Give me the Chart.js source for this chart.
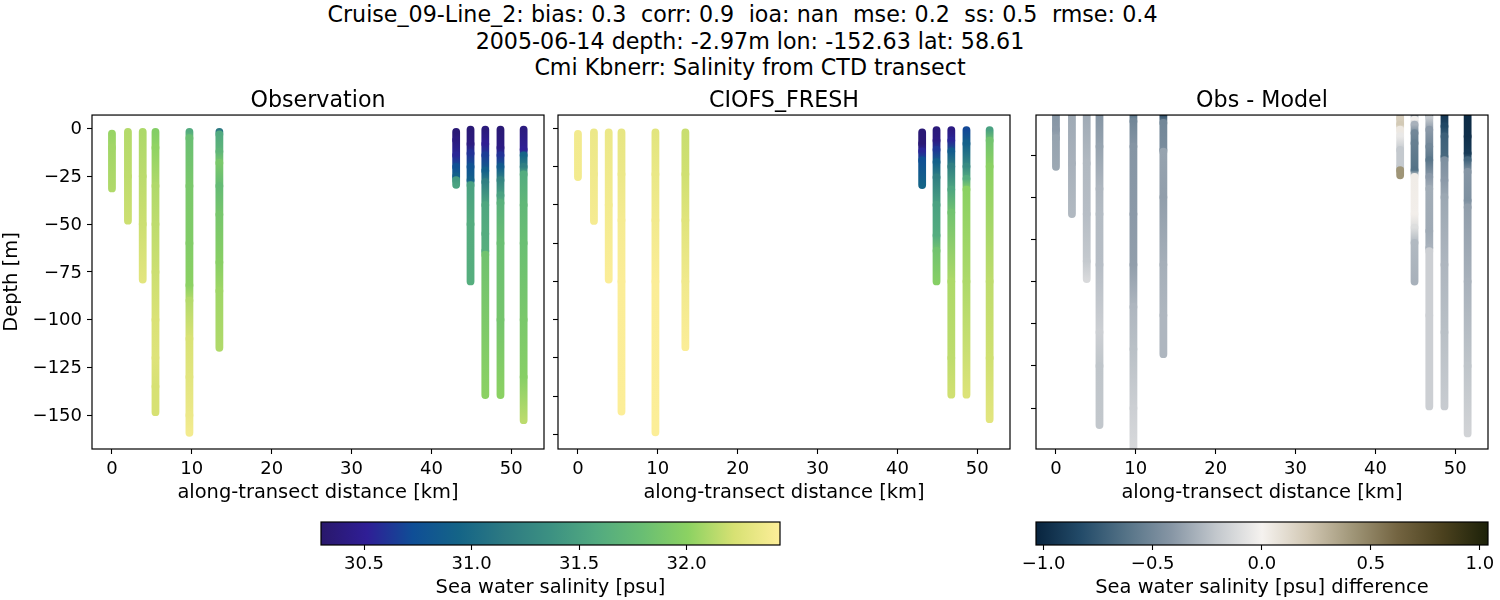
<!DOCTYPE html>
<html>
<head>
<meta charset="utf-8">
<title>Cruise_09-Line_2</title>
<script src="https://cdn.jsdelivr.net/npm/chart.js@4"></script>
<style>
	body { margin: 0; background: #fff; width: 1500px; height: 600px; overflow: hidden; position: relative; }
	canvas { position: absolute; }
	#suptitle { position: absolute; left: 0; top: 1px; width: 1500px; text-align: center; font: 22.2px/26.6px "DejaVu Sans"; color: #000; }
	#suptitle .first { padding-right: 15px; word-spacing: 0.2px; }
</style>
</head>
<body>
<div id="suptitle">
	<div class="first">Cruise_09-Line_2: bias: 0.3&nbsp; corr: 0.9&nbsp; ioa: nan&nbsp; mse: 0.2&nbsp; ss: 0.5&nbsp; rmse: 0.4</div>
	<div>2005-06-14 depth: -2.97m lon: -152.63 lat: 58.61</div>
	<div>Cmi Kbnerr: Salinity from CTD transect</div>
</div>
<canvas id="panel1"></canvas>
<canvas id="panel2"></canvas>
<canvas id="panel3"></canvas>
<canvas id="bar1"></canvas>
<canvas id="bar2"></canvas>
<script>
// along-transect distance of each cast [km]
const distances = [0, 2, 3.85, 5.45, 9.7, 13.45, 43.1, 44.9, 46.75, 48.65, 51.55];

// Observation
const obsDepths = [
	[-2.6, -10, -31.3],
	[-1.7, -25, -48.2],
	[-1.7, -25, -50, -79],
	[-1.7, -10, -30, -50, -75, -100, -120, -135, -148.4],
	[-1.7, -5, -30, -60, -82, -90, -110, -130, -150, -159.2],
	[-1.7, -3, -12, -18, -30, -45, -70, -85, -114.7],
	[-1.7, -6, -14, -20, -25, -27, -29.4],
	[-0.5, -8, -13, -20, -27, -29.6, -50, -80],
	[-0.5, -8, -14, -22, -28, -40, -55, -64, -66, -139.5],
	[-0.5, -10, -14, -20, -27, -35, -39, -60, -100, -139.5],
	[-0.5, -11, -14, -20, -24, -40, -60, -100, -130, -152.6]
];
const obsSalinity = [
	[32.04, 32.07, 32.11],
	[32.12, 32.15, 32.19],
	[32.1, 32.14, 32.19, 32.28],
	[31.96, 32.02, 32.11, 32.15, 32.19, 32.24, 32.26, 32.22, 32.22],
	[31.6, 31.8, 31.9, 31.94, 32.0, 32.12, 32.23, 32.28, 32.34, 32.38],
	[31.15, 31.58, 31.7, 31.9, 31.76, 31.88, 31.98, 32.06, 32.11],
	[30.35, 30.4, 30.55, 30.75, 30.9, 31.45, 31.52],
	[30.35, 30.4, 30.6, 30.78, 30.9, 31.5, 31.6, 31.62],
	[30.38, 30.5, 30.65, 30.9, 31.2, 31.55, 31.6, 31.62, 31.84, 32.0],
	[30.35, 30.42, 30.6, 30.85, 31.25, 31.5, 31.65, 31.8, 31.87, 32.0],
	[30.4, 30.5, 30.95, 31.2, 31.6, 31.72, 31.8, 31.9, 31.97, 32.14]
];

// CIOFS_FRESH
const modelDepths = [
	[-3.7, -31.8],
	[-2.6, -30, -60.5],
	[-2.6, -50, -98.8],
	[-2.6, -30, -60, -100, -185],
	[-2.6, -30, -60, -100, -198.6],
	[-2.6, -30, -60, -100, -143],
	[-2.6, -10, -15, -21, -37],
	[-1.1, -8, -14, -22, -32, -50, -70, -80, -100],
	[-1.1, -8, -15, -25, -40, -55, -100, -150, -174],
	[-1.1, -10, -25, -33, -40, -100, -174],
	[-1.1, -8, -25, -100, -150, -190]
];
const modelSalinity = [
	[32.37, 32.38],
	[32.34, 32.36, 32.39],
	[32.34, 32.38, 32.42],
	[32.31, 32.34, 32.39, 32.42, 32.43],
	[32.28, 32.33, 32.37, 32.42, 32.43],
	[32.18, 32.2, 32.27, 32.36, 32.42],
	[30.35, 30.35, 30.55, 30.75, 30.94],
	[30.38, 30.42, 30.62, 30.9, 31.2, 31.5, 31.6, 31.85, 31.97],
	[30.42, 30.55, 30.85, 31.2, 31.55, 31.85, 32.1, 32.15, 32.2],
	[30.7, 30.9, 31.3, 31.6, 32.0, 32.1, 32.25],
	[31.5, 31.85, 32.0, 32.15, 32.2, 32.28]
];

// Obs - Model
const diffDepths = [
	[0, -10, -15, -32],
	[0, -30, -60],
	[0, -30, -60, -88, -98.5],
	[0, -20, -45, -60, -90, -130, -150, -185],
	[0, -5, -20, -60, -90, -115, -140, -175, -205],
	[0, -6, -22, -23, -50, -90, -120, -143],
	[0, -3, -7, -10, -14, -22, -32, -34, -37],
	[0, -4, -7, -12, -18, -34, -38, -60, -68, -77, -100],
	[0, -3, -10, -20, -28, -38, -45, -70, -80, -82, -120, -174],
	[0, -8, -14, -26, -28, -40, -50, -90, -130, -174],
	[0, -14, -24, -28, -35, -52, -56, -100, -150, -190]
];
const diffValues = [
	[-0.42, -0.4, -0.36, -0.34],
	[-0.33, -0.3, -0.27],
	[-0.33, -0.27, -0.25, -0.2, -0.12],
	[-0.42, -0.36, -0.28, -0.26, -0.25, -0.17, -0.22, -0.21],
	[-0.6, -0.5, -0.42, -0.4, -0.38, -0.28, -0.24, -0.17, -0.11],
	[-0.9, -0.5, -0.47, -0.36, -0.38, -0.31, -0.28, -0.28],
	[-0.1, 0.18, 0.2, 0.05, -0.05, -0.2, -0.2, 0.42, 0.42],
	[-0.5, -0.02, -0.3, -0.5, -0.55, -0.62, 0.03, 0.02, -0.1, -0.27, -0.3],
	[-0.8, -0.2, -0.4, -0.5, -0.6, -0.4, -0.32, -0.33, -0.3, -0.17, -0.17, -0.17],
	[-0.95, -0.85, -0.72, -0.68, -0.45, -0.4, -0.34, -0.28, -0.24, -0.19],
	[-1.0, -0.98, -0.92, -0.7, -0.42, -0.45, -0.38, -0.3, -0.22, -0.15]
];

// tick labels
const distanceTicks = [0, 10, 20, 30, 40, 50];
const obsDepthTicks = [0, -25, -50, -75, -100, -125, -150];
const modelDepthTicks = [0, -25, -50, -75, -100, -125, -150, -175, -200];
const diffDepthTicks = [-25, -50, -75, -100, -125, -150, -175];
const salinityTicks = [30.5, 31, 31.5, 32];
const diffTicks = [-1, -0.5, 0, 0.5, 1];

// colormaps, evenly spaced stops
const halineColors = [[41,24,107],[47,30,150],[15,78,150],[20,100,135],[45,122,130],[60,145,130],[82,170,128],[105,190,115],[140,210,98],[215,225,115],[253,238,153]];
const diffColors = [[8,36,62],[35,75,105],[85,115,135],[135,150,165],[195,200,205],[245,242,239],[210,200,180],[160,150,120],[115,100,65],[75,65,30],[28,33,9]];
const salinityRange = [30.3, 32.434];
const diffRange = [-1.035, 1.037];

const font = "DejaVu Sans";

function colorAt(colors, range, v) {
	var t = (v - range[0]) / (range[1] - range[0]);
	t = Math.min(1, Math.max(0, t)) * (colors.length - 1);
	var i = Math.min(colors.length - 2, Math.floor(t));
	var c = colors[i].map((a, k) => Math.round(a + (colors[i + 1][k] - a) * (t - i)));
	return 'rgb(' + c.join(',') + ')';
}

function minusSign(v) {
	return String(v).replace('-', '\u2212');
}

function place(id, left, top, width, height) {
	const c = document.getElementById(id);
	c.style.left = left + 'px';
	c.style.top = top + 'px';
	c.width = width;
	c.height = height;
	c.style.width = width + 'px';
	c.style.height = height + 'px';
	return c;
}

// black box around the axes
const frame = {
	id: 'frame',
	afterDraw(chart) {
		const a = chart.chartArea, ctx = chart.ctx;
		ctx.save();
		ctx.strokeStyle = '#000';
		ctx.lineWidth = 1.2;
		ctx.strokeRect(a.left, a.top, a.right - a.left, a.bottom - a.top);
		ctx.restore();
	}
};

function drawPanel(id, box, title, depths, values, colors, range, yMin, yMax, yTicks, showY) {
	const c = place(id, box.left, 80, box.width, 426);
	const datasets = distances.map((x, i) => ({
		data: depths[i].map((d, k) => ({ x: x, y: d, v: values[i][k] })),
		showLine: true,
		pointRadius: 0,
		borderWidth: 7.8,
		borderCapStyle: 'round',
		clip: 0,
		segment: {
			// colour runs from one reading to the next
			borderColor: ctx => {
				const data = ctx.chart.data.datasets[ctx.datasetIndex].data;
				const a = data[ctx.p0DataIndex], b = data[ctx.p1DataIndex];
				const y = ctx.chart.scales.y;
				const g = ctx.chart.ctx.createLinearGradient(0, y.getPixelForValue(a.y), 0, y.getPixelForValue(b.y));
				g.addColorStop(0, colorAt(colors, range, a.v));
				g.addColorStop(1, colorAt(colors, range, b.v));
				return g;
			}
		}
	}));
	new Chart(c, {
		type: 'scatter',
		data: { datasets: datasets },
		plugins: [frame],
		options: {
			responsive: false,
			animation: false,
			devicePixelRatio: 1,
			layout: { padding: { right: box.width - box.axis - 452 } },
			plugins: {
				legend: { display: false },
				tooltip: { enabled: false },
				title: {
					display: true,
					fullSize: false,
					text: title,
					color: '#000',
					font: { family: font, size: 22.2, weight: 'normal' },
					padding: { top: 8, bottom: 0.4 }
				}
			},
			scales: {
				x: {
					type: 'linear',
					min: -2.5,
					max: 54.1,
					afterBuildTicks: s => { s.ticks = distanceTicks.map(v => ({ value: v })); },
					afterFit: s => { s.height = 57; },
					border: { display: false },
					grid: { drawOnChartArea: false, tickLength: 5, tickColor: '#000', tickWidth: 1.1 },
					ticks: { color: '#000', maxRotation: 0, autoSkip: false, padding: 5, font: { family: font, size: 18 } },
					title: { display: true, text: 'along-transect distance [km]', color: '#000', padding: { top: 0, bottom: 1 }, font: { family: font, size: 19.44 } }
				},
				y: {
					type: 'linear',
					min: yMin,
					max: yMax,
					afterBuildTicks: s => { s.ticks = yTicks.map(v => ({ value: v })); },
					afterFit: s => { s.width = box.axis; },
					border: { display: false },
					grid: { drawOnChartArea: false, tickLength: 5, tickColor: '#000', tickWidth: 1.1 },
					ticks: { display: showY, color: '#000', autoSkip: false, padding: 5, labelOffset: 1, callback: minusSign, font: { family: font, size: 18 } },
					title: { display: showY, text: 'Depth [m]', color: '#000', padding: { top: 0, bottom: 1 }, font: { family: font, size: 19.44 } }
				}
			}
		}
	});
}

function drawBar(id, left, width, areaLeft, areaWidth, colors, range, ticks, label) {
	const c = place(id, left, 510, width, 90);
	const gradient = {
		id: 'gradient',
		beforeDatasetsDraw(chart) {
			const a = chart.chartArea, ctx = chart.ctx;
			const g = ctx.createLinearGradient(a.left, 0, a.right, 0);
			colors.forEach((col, i) => g.addColorStop(i / (colors.length - 1), 'rgb(' + col.join(',') + ')'));
			ctx.fillStyle = g;
			ctx.fillRect(a.left, a.top, a.right - a.left, a.bottom - a.top);
		}
	};
	new Chart(c, {
		type: 'scatter',
		data: { datasets: [] },
		plugins: [gradient, frame],
		options: {
			responsive: false,
			animation: false,
			devicePixelRatio: 1,
			layout: { padding: { left: areaLeft, top: 12, right: width - areaLeft - areaWidth } },
			plugins: { legend: { display: false }, tooltip: { enabled: false } },
			scales: {
				x: {
					type: 'linear',
					min: range[0],
					max: range[1],
					afterBuildTicks: s => { s.ticks = ticks.map(v => ({ value: v })); },
					afterFit: s => { s.height = 55; },
					border: { display: false },
					grid: { drawOnChartArea: false, tickLength: 5, tickColor: '#000', tickWidth: 1.1 },
					ticks: {
						color: '#000',
						maxRotation: 0,
						autoSkip: false,
						padding: 4,
						callback: v => minusSign(v.toFixed(1)),
						font: { family: font, size: 18 }
					},
					title: { display: true, text: label, color: '#000', padding: 0, font: { family: font, size: 19.44 } }
				},
				y: { display: false, min: 0, max: 1 }
			}
		}
	});
}

drawPanel('panel1', { left: 0, width: 546, axis: 92 }, 'Observation', obsDepths, obsSalinity, halineColors, salinityRange, -167.7, 7.1, obsDepthTicks, true);
drawPanel('panel2', { left: 528, width: 484, axis: 30 }, 'CIOFS_FRESH', modelDepths, modelSalinity, halineColors, salinityRange, -209.5, 8.7, modelDepthTicks, false);
drawPanel('panel3', { left: 1006, width: 484, axis: 30 }, 'Obs - Model', diffDepths, diffValues, diffColors, diffRange, -199.2, -1.3, diffDepthTicks, false);

drawBar('bar1', 300, 500, 21, 459, halineColors, salinityRange, salinityTicks, 'Sea water salinity [psu]');
drawBar('bar2', 1000, 500, 36, 452, diffColors, diffRange, diffTicks, 'Sea water salinity [psu] difference');
</script>
</body>
</html>
